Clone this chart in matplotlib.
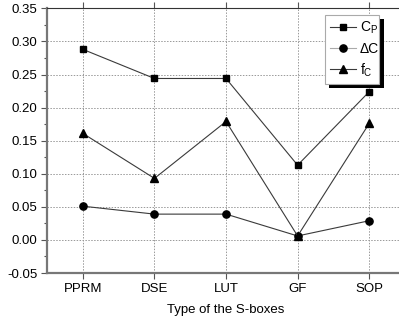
import matplotlib
matplotlib.use("Agg")
import matplotlib.pyplot as plt
from matplotlib.ticker import MultipleLocator
from matplotlib.patches import Rectangle

plt.rcParams['font.family'] = ['Liberation Sans', 'DejaVu Sans']
plt.rcParams['mathtext.fontset'] = 'custom'
plt.rcParams['mathtext.rm'] = 'Liberation Sans'
plt.rcParams['mathtext.it'] = 'Liberation Sans'

categories = ["PPRM", "DSE", "LUT", "GF", "SOP"]
cp = [0.288, 0.244, 0.244, 0.113, 0.224]
delta_c = [0.051, 0.039, 0.039, 0.006, 0.029]
fc = [0.161, 0.093, 0.179, 0.006, 0.176]
yticks = [-0.05, 0.00, 0.05, 0.10, 0.15, 0.20, 0.25, 0.30, 0.35]

fig = plt.figure(figsize=(3.99, 3.21), dpi=100)
ax = fig.add_axes([0.118, 0.1495, 0.897, 0.8245])
x = list(range(1, len(categories) + 1))

lc = '#3a3a3a'
ax.plot(x, cp, color=lc, lw=0.8, marker='s', ms=4.6, mfc='black', mec='black', label='C$_\\mathregular{P}$', zorder=3)
ax.plot(x, delta_c, color=lc, lw=0.8, marker='o', ms=5.2, mfc='black', mec='black', label='ΔC', zorder=3)
ax.plot(x, fc, color=lc, lw=0.8, marker='^', ms=6, mfc='black', mec='black', label='f$_\\mathregular{C}$', zorder=3)

ax.set_xlim(0.5, 5.5)
ax.set_ylim(-0.05, 0.35)
ax.set_xticks(x)
ax.set_xticklabels(categories, fontsize=9.5)
ax.set_yticks(yticks)
ax.set_yticklabels([f"{v:.2f}" for v in yticks], fontsize=9.5)
ax.yaxis.set_minor_locator(MultipleLocator(0.025))
ax.tick_params(axis='both', which='major', direction='out', length=4, width=0.8, color='#555555', pad=3)
ax.tick_params(axis='y', which='minor', direction='out', length=2.5, width=0.8, color='#555555')
ax.tick_params(axis='x', top=True, direction='out')
ax.grid(True, which='major', linestyle=(0, (1.5, 1.5)), color='#999999', lw=0.7)
for s in ['left', 'bottom']:
    ax.spines[s].set_color('#777777')
    ax.spines[s].set_linewidth(1.6)
ax.spines['top'].set_color('#333333')
ax.spines['top'].set_linewidth(0.8)
ax.spines['right'].set_visible(False)

ax.set_xlabel("Type of the S-boxes", fontsize=9.5, labelpad=7)

leg = ax.legend(loc='upper left', bbox_to_anchor=(0.7765, 0.0, 0.151, 0.975), mode='expand',
                fontsize=10, fancybox=False, edgecolor='#aaaaaa', framealpha=1,
                handlelength=1.9, borderpad=0.35, labelspacing=0.4,
                handletextpad=0.25, borderaxespad=0)
leg.get_frame().set_linewidth(0.8)
leg.set_zorder(10)
leg.get_lines()[1].set_color('#aaaaaa')
leg.get_lines()[1].set_markerfacecolor('black')
leg.get_lines()[1].set_markeredgecolor('black')

fig.canvas.draw()
bb = leg.get_window_extent().transformed(fig.transFigure.inverted())
ox, oy = 4.5 / 399, 4.5 / 321
shadow = Rectangle((bb.x0 + ox, bb.y0 - oy), bb.width, bb.height,
                   transform=fig.transFigure, facecolor='black', edgecolor='none',
                   zorder=9, clip_on=False)
ax.add_patch(shadow)

fig.savefig("out.png", dpi=100)
